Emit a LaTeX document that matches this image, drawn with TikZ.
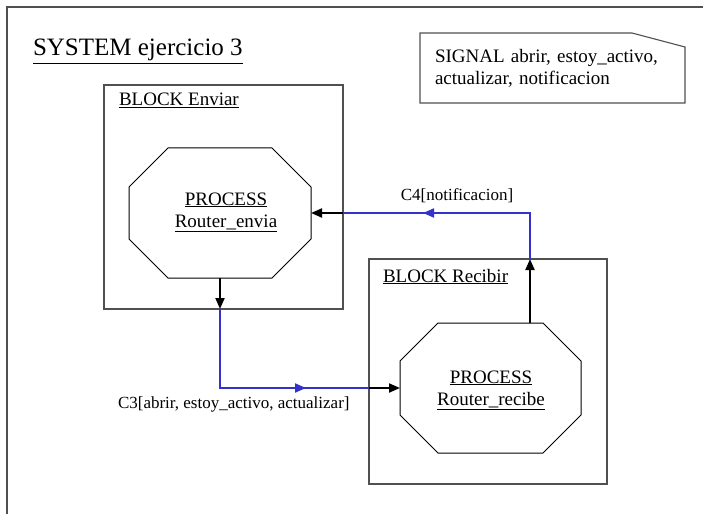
\documentclass[tikz,border=0pt]{standalone}
\usepackage{fontspec}
\setmainfont{Liberation Serif}
\usetikzlibrary{arrows.meta}
\definecolor{wireblue}{RGB}{51,51,204}
\definecolor{framegray}{RGB}{80,80,80}
\newcommand\titlefont{\fontsize{25bp}{29bp}\selectfont}
\newcommand\bodyfont{\fontsize{19bp}{22bp}\selectfont}
\newcommand\chanfont{\fontsize{17bp}{20bp}\selectfont}
\begin{document}
\begin{tikzpicture}[x=1bp,y=-1bp,
  boxline/.style={draw=framegray,line width=1.1bp},
  octline/.style={draw=black,line width=1bp},
  blackwire/.style={draw=black,line width=2bp,-{Triangle[length=11bp,width=9bp]}},
  bluewire/.style={draw=wireblue,line width=2bp},
  bluetip/.style={draw=wireblue,line width=2bp,-{Triangle[length=11bp,width=9bp]}},
  area/.style={inner sep=0,outer sep=0},
  txt/.style={inner sep=0,outer sep=0}
]
\useasboundingbox (0,0) rectangle (703,514);
% system frame
\draw[boxline] (7,514) -- (7,7) -- (703,7);
\node[txt,anchor=base west,font=\titlefont] (title) at (33,56) {\underline{SYSTEM ejercicio 3}};

% signal declaration
\node[area,anchor=north west,minimum width=265bp,minimum height=70bp,text width=235bp,align=left,font=\bodyfont] (signal) at (420,33) {SIGNAL abrir, estoy\_activo,\\actualizar, notificacion};
\draw[boxline] (signal.north west) -- ([xshift=-53bp]signal.north east) -- ([yshift=-14bp]signal.north east) -- (signal.south east) -- (signal.south west) -- cycle;

% blocks
\node[boxline,area,anchor=north west,minimum width=239bp,minimum height=224bp] (enviar) at (104,85) {};
\node[txt,anchor=base west,font=\bodyfont] (enviarlabel) at (119,106) {\underline{BLOCK Enviar}};
\node[boxline,area,anchor=north west,minimum width=238bp,minimum height=225bp] (recibir) at (369,259) {};
\node[txt,anchor=base west,font=\bodyfont] (recibirlabel) at (383,282) {\underline{BLOCK Recibir}};

% processes
\node[area,minimum width=182bp,minimum height=130bp] (envia) at (220,213) {};
\draw[octline] ([xshift=39bp]envia.north west) -- ([xshift=-39bp]envia.north east) -- ([yshift=-39bp]envia.north east) -- ([yshift=39bp]envia.south east) -- ([xshift=-39bp]envia.south east) -- ([xshift=39bp]envia.south west) -- ([yshift=39bp]envia.south west) -- ([yshift=-39bp]envia.north west) -- cycle;
\node[txt,align=center,font=\bodyfont] (envialabel) at (226,212) {\underline{PROCESS}\\\underline{Router\_envia}};

\node[area,minimum width=181bp,minimum height=130bp] (recibe) at (490.5,388) {};
\draw[octline] ([xshift=38bp]recibe.north west) -- ([xshift=-38bp]recibe.north east) -- ([yshift=-38bp]recibe.north east) -- ([yshift=38bp]recibe.south east) -- ([xshift=-38bp]recibe.south east) -- ([xshift=38bp]recibe.south west) -- ([yshift=38bp]recibe.south west) -- ([yshift=-38bp]recibe.north west) -- cycle;
\node[txt,align=center,font=\bodyfont] (recibelabel) at (491,390) {\underline{PROCESS}\\\underline{Router\_recibe}};

% channel C3
\coordinate (c3a) at (envia.south |- enviar.south);
\coordinate (c3b) at (c3a |- recibe.west);
\coordinate (c3c) at (recibir.west |- recibe.west);
\coordinate (c3m) at (306,388);
\draw[blackwire] (envia.south) -- (c3a);
\draw[bluewire] (c3a) -- (c3b) -- (c3c);
\draw[bluetip] (c3b) -- (c3m);
\draw[blackwire] (c3c) -- (recibe.west);
\node[txt,anchor=base west,font=\chanfont] (c3label) at (118,408) {C3[abrir, estoy\_activo, actualizar]};

% channel C4
\coordinate (c4s) at ([xshift=39.5bp]recibe.north);
\coordinate (c4a) at (c4s |- recibir.north);
\coordinate (c4b) at (c4s |- envia.east);
\coordinate (c4c) at (enviar.east |- envia.east);
\coordinate (c4m) at (423,213);
\draw[blackwire] (c4s) -- (c4a);
\draw[bluewire] (c4a) -- (c4b) -- (c4c);
\draw[bluetip] (c4b) -- (c4m);
\draw[blackwire] (c4c) -- (envia.east);
\node[txt,anchor=base,font=\chanfont] (c4label) at (457,201) {C4[notificacion]};
\end{tikzpicture}
\end{document}
